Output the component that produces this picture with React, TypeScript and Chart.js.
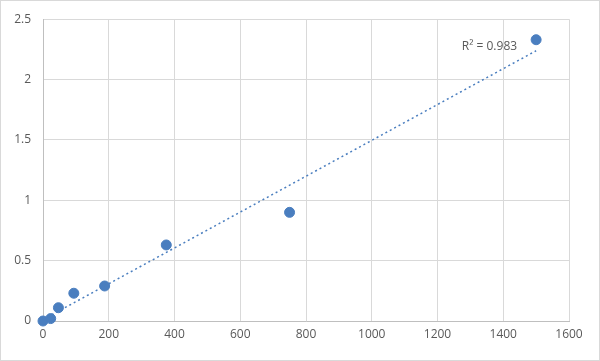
import React, { useEffect, useRef } from "react";
import { Chart, registerables } from "chart.js";
Chart.register(...registerables);

const concentrations = [0, 23.4, 46.9, 93.75, 187.5, 375, 750, 1500];
const readings = [0, 0.02, 0.11, 0.23, 0.29, 0.63, 0.9, 2.33];
const r2Label = "R² = 0.983";
const xTickMax = 1600;
const yTickMax = 2.5;

function linearFit(xs: number[], ys: number[]) {
  const n = xs.length;
  const mx = xs.reduce((a, b) => a + b, 0) / n;
  const my = ys.reduce((a, b) => a + b, 0) / n;
  let sxy = 0, sxx = 0;
  for (let i = 0; i < n; i++) {
    sxy += (xs[i] - mx) * (ys[i] - my);
    sxx += (xs[i] - mx) ** 2;
  }
  const m = sxy / sxx;
  return { m, b: my - m * mx };
}

export default function App() {
  const ref = useRef<HTMLCanvasElement>(null);
  useEffect(() => {
    document.body.style.margin = "0";
    const fit = linearFit(concentrations, readings);
    const xMin = concentrations[0];
    const xMax = concentrations[concentrations.length - 1];
    const trend = [
      { x: xMin, y: fit.m * xMin + fit.b },
      { x: xMax, y: fit.m * xMax + fit.b },
    ];
    const blue = "#4a7ebf";
    const grid = "#d9d9d9";
    const textColor = "#595959";
    const font = { family: "'Open Sans', 'Liberation Sans', sans-serif", size: 12 };
    const chart = new Chart(ref.current!, {
      type: "scatter",
      data: {
        datasets: [
          {
            type: "line",
            data: trend,
            borderColor: blue,
            borderWidth: 1.5,
            borderDash: [2, 3],
            pointRadius: 0,
            fill: false,
            clip: false,
          },
          {
            data: concentrations.map((x, i) => ({ x, y: readings[i] })),
            backgroundColor: blue,
            borderColor: blue,
            pointRadius: 5,
            pointHoverRadius: 5,
            clip: false,
          },
        ],
      },
      options: {
        responsive: false,
        animation: false,
        layout: { padding: { top: 19, right: 31, left: 0, bottom: 0 } },
        plugins: { legend: { display: false }, tooltip: { enabled: false } },
        scales: {
          x: {
            type: "linear",
            min: 0,
            max: xTickMax,
            ticks: { stepSize: 200, color: textColor, font, padding: 6, callback: (v: any) => String(v) },
            grid: { color: grid, lineWidth: 1, drawTicks: false },
            border: { color: "#bfbfbf" },
            afterFit: (s: any) => { s.height = 40; },
          },
          y: {
            min: 0,
            max: yTickMax,
            ticks: { stepSize: 0.5, color: textColor, font, padding: 12, callback: (v: any) => String(v) },
            grid: { color: grid, lineWidth: 1, drawTicks: false },
            border: { color: "#bfbfbf" },
            afterFit: (s: any) => { s.width = 43; },
          },
        },
      },
      plugins: [
        {
          id: "extras",
          afterDraw(c: any) {
            const ctx = c.ctx;
            ctx.save();
            ctx.strokeStyle = "#d9d9d9";
            ctx.lineWidth = 1;
            ctx.strokeRect(0.5, 0.5, c.width - 1, c.height - 1);
            ctx.fillStyle = textColor;
            ctx.font = "12px 'Open Sans', 'Liberation Sans', sans-serif";
            ctx.textAlign = "left";
            ctx.textBaseline = "middle";
            const px = c.scales.x.getPixelForValue(1274);
            const py = c.scales.y.getPixelForValue(2.276);
            ctx.fillText(r2Label, px, py);
            ctx.restore();
          },
        },
      ],
    } as any);
    return () => chart.destroy();
  }, []);
  return <canvas ref={ref} width={600} height={361} style={{ display: "block" }} />;
}
